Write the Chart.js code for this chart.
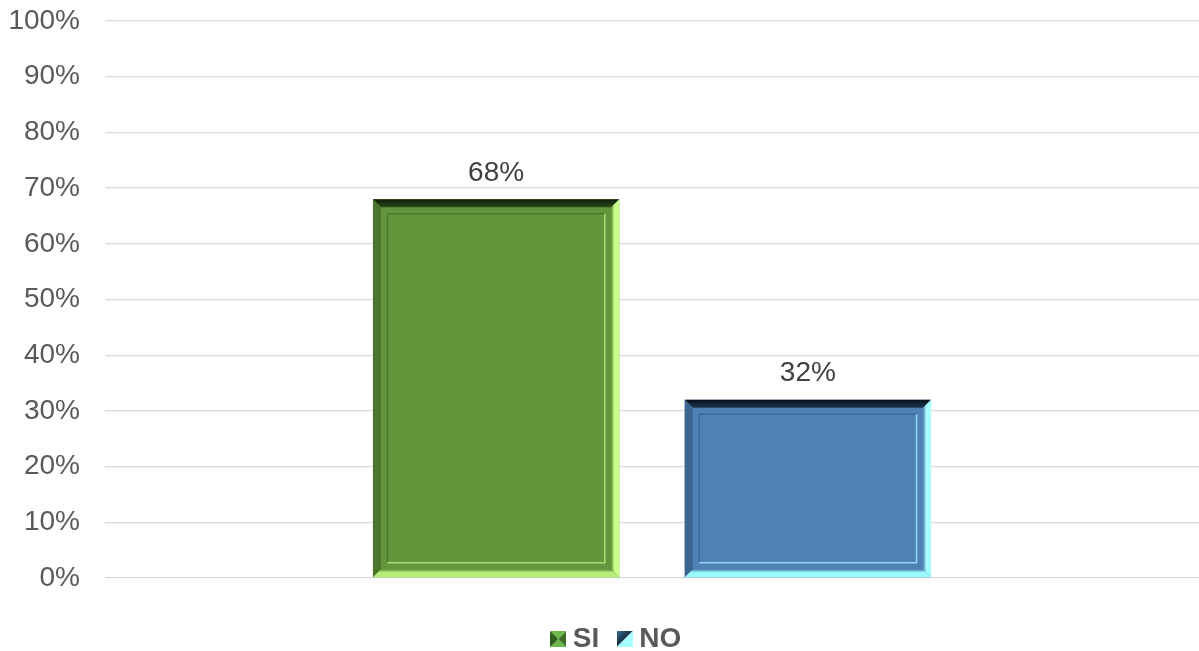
<!DOCTYPE html>
<html>
<head>
<meta charset="utf-8">
<script src="https://cdn.jsdelivr.net/npm/chart.js@4.4.0/dist/chart.umd.min.js"></script>
<style>
html,body{margin:0;padding:0;background:#fff;}
#wrap{width:1199px;height:651px;position:relative;}
</style>
</head>
<body>
<div id="wrap"><canvas id="c" width="1199" height="651"></canvas></div>
<script>
const categories = [''];
const seriesNames = ['SI', 'NO'];
const siValues = [0.68];
const noValues = [0.32];
const yTicks = [0, 0.1, 0.2, 0.3, 0.4, 0.5, 0.6, 0.7, 0.8, 0.9, 1.0];
const yTickLabels = ['0%', '10%', '20%', '30%', '40%', '50%', '60%', '70%', '80%', '90%', '100%'];

const FONT = '"Liberation Sans", Arial, sans-serif';
const styles = [
  {base:'#63963c', top1:'#0e1a08', top2:'#2a4a18', left:'#4b742c', right:'#c8ff8a', bottom:'#b6ee7a', innerDark:'#4a7a2c', innerLight:'#a6e070'},
  {base:'#4f81b4', top1:'#061018', top2:'#1c3850', left:'#3a6690', right:'#a8ffff', bottom:'#98faff', innerDark:'#3a6a96', innerLight:'#8fd8f4'}
];

function makeIcon(draw){
  const c = document.createElement('canvas');
  c.width = 16; c.height = 16;
  const g = c.getContext('2d');
  const tri = (pts, col) => { g.beginPath(); g.moveTo(pts[0][0],pts[0][1]); for (let i=1;i<pts.length;i++) g.lineTo(pts[i][0],pts[i][1]); g.closePath(); g.fillStyle = col; g.fill(); };
  draw(g, tri);
  return c;
}
const legendIcons = [
  makeIcon((g, tri) => {
    tri([[0,0],[16,0],[8,8]], '#6fb84c');
    tri([[0,16],[16,16],[8,8]], '#6fb84c');
    tri([[0,0],[8,8],[0,16]], '#2f5e1c');
    tri([[16,0],[16,16],[8,8]], '#3d7026');
  }),
  makeIcon((g, tri) => {
    const gr = g.createLinearGradient(0, 0, 10, 10);
    gr.addColorStop(0, '#3f6f9a'); gr.addColorStop(1, '#0a1a28');
    tri([[0,0],[16,0],[0,16]], gr);
    tri([[16,0],[16,16],[0,16]], '#a8ffff');
  })
];

const legendShift = {
  id: 'legendShift',
  afterLayout(chart){
    const lg = chart.legend;
    if (lg) { lg.left += 20; lg.right += 20; }
  }
};

const bevelPlugin = {
  id: 'bevel',
  afterDatasetsDraw(chart){
    const ctx = chart.ctx;
    chart.data.datasets.forEach((ds, di) => {
      const meta = chart.getDatasetMeta(di);
      const s = styles[di];
      meta.data.forEach(bar => {
        const p = bar.getProps(['x','y','base','width'], true);
        const l = p.x - p.width/2, r = p.x + p.width/2, t = p.y, bo = p.base;
        const b = 8;
        ctx.save();
        const poly = (pts, fill) => { ctx.beginPath(); ctx.moveTo(pts[0][0],pts[0][1]); for (let i=1;i<pts.length;i++) ctx.lineTo(pts[i][0],pts[i][1]); ctx.closePath(); ctx.fillStyle = fill; ctx.fill(); };
        const gt = ctx.createLinearGradient(0, t, 0, t+b);
        gt.addColorStop(0, s.top1); gt.addColorStop(1, s.top2);
        poly([[l,t],[r,t],[r-b,t+b],[l+b,t+b]], gt);
        poly([[l,t],[l+b,t+b],[l+b,bo-b],[l,bo]], s.left);
        const gr = ctx.createLinearGradient(r-b, 0, r, 0);
        gr.addColorStop(0, s.base); gr.addColorStop(0.4, s.right); gr.addColorStop(1, s.right);
        poly([[r,t],[r,bo],[r-b,bo-b],[r-b,t+b]], gr);
        const gb = ctx.createLinearGradient(0, bo-b, 0, bo);
        gb.addColorStop(0, s.base); gb.addColorStop(0.4, s.bottom); gb.addColorStop(1, s.bottom);
        poly([[l,bo],[r,bo],[r-b,bo-b],[l+b,bo-b]], gb);
        const i = 14.5;
        ctx.lineWidth = 1.5;
        ctx.strokeStyle = s.innerDark;
        ctx.beginPath(); ctx.moveTo(l+i, bo-i); ctx.lineTo(l+i, t+i); ctx.lineTo(r-i, t+i); ctx.stroke();
        ctx.strokeStyle = s.innerLight;
        ctx.beginPath(); ctx.moveTo(r-i, t+i); ctx.lineTo(r-i, bo-i); ctx.lineTo(l+i, bo-i); ctx.stroke();
        ctx.fillStyle = '#404040';
        ctx.font = '28px ' + FONT;
        ctx.textAlign = 'center';
        ctx.textBaseline = 'bottom';
        ctx.fillText(Math.round(ds.data[0]*100) + '%', p.x, t - 12);
        ctx.restore();
      });
    });
  }
};

new Chart(document.getElementById('c'), {
  type: 'bar',
  data: {
    labels: categories,
    datasets: [
      {label: seriesNames[0], data: siValues, backgroundColor: styles[0].base, borderWidth: 0},
      {label: seriesNames[1], data: noValues, backgroundColor: styles[1].base, borderWidth: 0}
    ]
  },
  options: {
    responsive: false,
    animation: false,
    devicePixelRatio: 1,
    datasets: { bar: { categoryPercentage: 0.57, barPercentage: 0.79 } },
    layout: { padding: { top: 21, right: 0, bottom: 0, left: 0 } },
    scales: {
      x: {
        display: true,
        grid: { display: false },
        border: { display: false },
        ticks: { display: false },
        afterFit(axis){ axis.height = 22; }
      },
      y: {
        min: 0, max: 1,
        afterBuildTicks(axis){ axis.ticks = yTicks.map(v => ({value: v})); },
        afterFit(axis){ axis.width = 105; axis.paddingTop = 0; axis.paddingBottom = 0; },
        border: { display: false },
        grid: { color: '#d9d9d9', lineWidth: 1.3, drawTicks: false },
        ticks: {
          padding: 25,
          color: '#595959',
          font: { family: FONT, size: 28 },
          callback: (v, i) => yTickLabels[i]
        }
      }
    },
    plugins: {
      tooltip: { enabled: false },
      legend: {
        position: 'bottom',
        maxHeight: 51,
        labels: {
          color: '#595959',
          font: { family: FONT, size: 28, weight: 'bold' },
          usePointStyle: true,
          boxWidth: 1,
          padding: 25,
          generateLabels(chart){
            return chart.data.datasets.map((ds, i) => ({
              text: ds.label,
              pointStyle: legendIcons[i],
              fillStyle: styles[i].base,
              strokeStyle: 'transparent',
              lineWidth: 0,
              datasetIndex: i,
              fontColor: '#595959'
            }));
          }
        }
      }
    }
  },
  plugins: [bevelPlugin, legendShift]
});
</script>
</body>
</html>
